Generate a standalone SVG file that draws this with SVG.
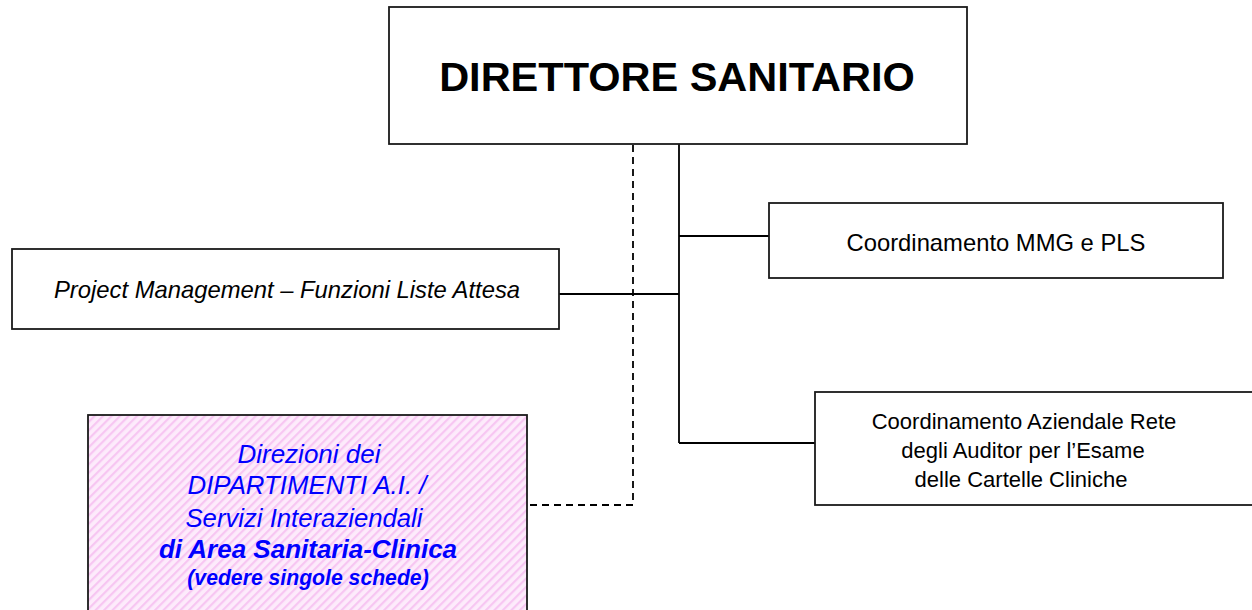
<svg xmlns="http://www.w3.org/2000/svg" width="1252" height="610" viewBox="0 0 1252 610">
  <style>
    .box { fill: #ffffff; stroke: #1a1a1a; stroke-width: 1.8; }
    .conn { stroke: #000000; stroke-width: 1.8; fill: none; }
    .dash { stroke: #000000; stroke-width: 1.8; fill: none; stroke-dasharray: 7 5; }
    .t { font-family: "Liberation Sans", Arial, Helvetica, sans-serif; fill: #000000; text-anchor: middle; }
    .b { font-family: "Liberation Sans", Arial, Helvetica, sans-serif; fill: #0000ff; text-anchor: middle; font-style: italic; }
  </style>
  <defs>
    <pattern id="stripes" patternUnits="userSpaceOnUse" width="6" height="6" patternTransform="rotate(45)">
      <rect width="6" height="6" fill="#fdebfb"/>
      <rect x="0" y="0" width="2.2" height="6" fill="#f7c6f2"/>
    </pattern>
  </defs>
  <rect width="1252" height="610" fill="#ffffff"/>

  <g id="connectors">
    <line class="conn" x1="679" y1="144" x2="679" y2="443"/>
    <line class="conn" x1="679" y1="236" x2="769" y2="236"/>
    <line class="conn" x1="559" y1="294" x2="679" y2="294"/>
    <line class="conn" x1="679" y1="443" x2="815" y2="443"/>
    <polyline class="dash" points="633,145 633,505 527,505"/>
  </g>

  <g id="direttore">
    <rect class="box" x="389" y="7" width="578" height="137"/>
    <text class="t" x="677" y="91" font-size="41.5" font-weight="bold">DIRETTORE SANITARIO</text>
  </g>

  <g id="project-management">
    <rect class="box" x="12" y="249" width="547" height="80"/>
    <text class="t" x="287" y="298" font-size="23.8" font-style="italic">Project Management – Funzioni Liste Attesa</text>
  </g>

  <g id="coord-mmg">
    <rect class="box" x="769" y="203" width="454" height="75"/>
    <text class="t" x="996" y="251" font-size="23.8">Coordinamento MMG e PLS</text>
  </g>

  <g id="coord-auditor">
    <rect class="box" x="815" y="392" width="445" height="113"/>
    <text class="t" x="1024" y="429" font-size="22">Coordinamento Aziendale Rete</text>
    <text class="t" x="1023" y="458" font-size="22">degli Auditor per l’Esame</text>
    <text class="t" x="1021" y="487" font-size="22">delle Cartelle Cliniche</text>
  </g>

  <g id="direzioni-dipartimenti">
    <rect x="88" y="415" width="439" height="205" fill="url(#stripes)" stroke="#1a1a1a" stroke-width="1.8"/>
    <text class="b" x="309" y="463" font-size="26">Direzioni dei</text>
    <text class="b" x="307" y="494" font-size="25.8">DIPARTIMENTI A.I. /</text>
    <text class="b" x="304" y="527" font-size="25.7">Servizi Interaziendali</text>
    <text class="b" x="308" y="558" font-size="26" font-weight="bold">di Area Sanitaria-Clinica</text>
    <text class="b" x="308" y="585" font-size="21.2" font-weight="bold">(vedere singole schede)</text>
  </g>
</svg>
